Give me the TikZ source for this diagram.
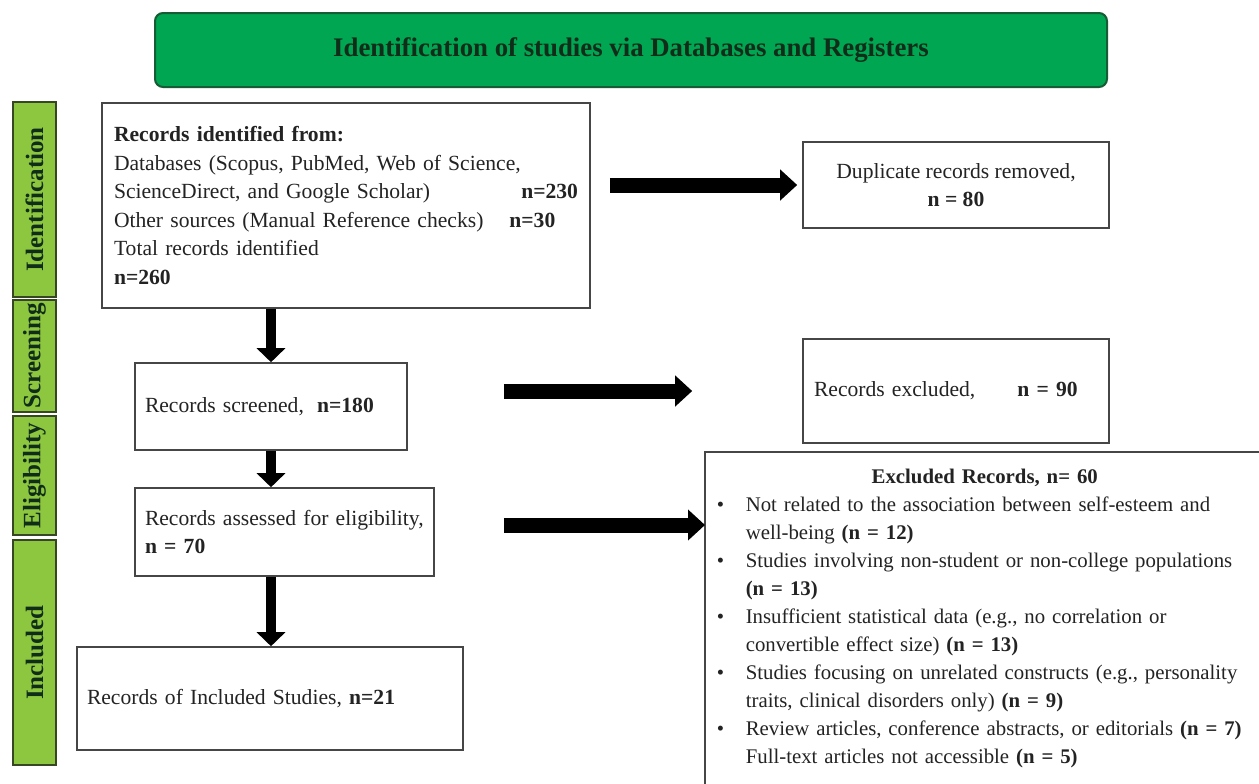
\documentclass[tikz,border=0pt]{standalone}
\usepackage{fontspec}
\setmainfont{Liberation Serif}
\usepackage{tikz}
\usetikzlibrary{arrows.meta, positioning}
\definecolor{hdrgreen}{RGB}{0,166,81}
\definecolor{hdrdark}{RGB}{22,92,52}
\definecolor{hdrtext}{RGB}{15,45,25}
\definecolor{phasegreen}{RGB}{141,198,63}
\definecolor{phasedark}{RGB}{55,70,35}
\definecolor{boxgray}{RGB}{70,70,70}
\definecolor{txtdark}{RGB}{35,35,35}
\newcommand{\exbullet}{\makebox[14.5pt][l]{\textbullet}}
\newcommand{\exindent}{\hspace*{14.5pt}}
\tikzset{
  header/.style={rectangle, draw=hdrdark, fill=hdrgreen, rounded corners=4pt,
    line width=1pt, minimum width=476pt, minimum height=37pt,
    font=\fontsize{13.4}{16}\selectfont\bfseries, text=hdrtext},
  phase/.style={rectangle, draw=phasedark, fill=phasegreen, line width=0.9pt,
    rotate=90, minimum height=21.5pt, inner sep=0pt,
    font=\fontsize{12.5}{14}\selectfont\bfseries, text=hdrtext},
  recbox/.style={rectangle, draw=boxgray, line width=0.8pt, text=txtdark,
    font=\fontsize{10.8}{14.25}\selectfont, inner xsep=5pt},
  bigarrow/.style={-{Triangle[length=8.5pt,width=15pt]}, line width=7.5pt, black},
  downarrow/.style={-{Triangle[length=7pt,width=14pt]}, line width=5pt, black}
}

\begin{document}
\begin{tikzpicture}[x=0.5pt, y=-0.5pt]
  \path[use as bounding box, clip] (0,0) rectangle (1259,783);
  \fill[white] (0,0) rectangle (1259,783);

  % header bar
  \node[header] (hdr) at (631,50) {Identification of studies via Databases and Registers};

  % phase labels on the left
  \node[phase, minimum width=97.5pt] (phid) at (34.5,199.5) {Identification};
  \node[phase, minimum width=56pt] (phscr) at (34.5,356) {Screening};
  \node[phase, minimum width=59.5pt] (phelig) at (34.5,475.5) {Eligibility};
  \node[phase, minimum width=112.5pt] (phinc) at (34.5,652.5) {Included};

  % main column
  \node[recbox, text width=232pt, inner xsep=6pt, minimum height=102.5pt, align=left] (recid) at (346,205.5)
    {\textbf{Records identified from:}\\
     Databases (Scopus, PubMed, Web of Science,\\
     ScienceDirect, and Google Scholar)\hfill\textbf{n=230}\\
     Other sources (Manual Reference checks)\hspace{13pt}\textbf{n=30}\\
     Total records identified\\
     \textbf{n=260}};
  \node[recbox, text width=126pt, minimum height=43.5pt, align=left] (scr) at (271,406.5)
    {Records screened,\hspace{3pt} \textbf{n=180}};
  \node[recbox, text width=139.5pt, minimum height=44pt, align=left] (elg) at (284.5,532)
    {Records assessed for eligibility,\\ \textbf{n = 70}};
  \node[recbox, text width=183pt, minimum height=51.5pt, align=left] (incl) at (270,698.5)
    {Records of Included Studies, \textbf{n=21}};

  % right column
  \node[recbox, minimum width=153pt, minimum height=43pt, align=center] (dup) at (956,185)
    {Duplicate records removed,\\ \textbf{n = 80}};
  \node[recbox, text width=142pt, inner xsep=5.5pt, minimum height=52pt, align=left] (exc) at (956,391)
    {Records excluded,\hspace{21pt}\textbf{n = 90}};
  \node[recbox, draw=none, anchor=north west, text width=268pt, inner xsep=5.5pt, inner ysep=8pt,
    font=\fontsize{10.4}{14}\selectfont, align=left] (exlist) at (705,452)
    {\hfill\textbf{Excluded Records, n= 60}\hfill\null\\
     \exbullet Not related to the association between self-esteem and\\
     \exindent well-being \textbf{(n = 12)}\\
     \exbullet Studies involving non-student or non-college populations\\
     \exindent \textbf{(n = 13)}\\
     \exbullet Insufficient statistical data (e.g., no correlation or\\
     \exindent convertible effect size) \textbf{(n = 13)}\\
     \exbullet Studies focusing on unrelated constructs (e.g., personality\\
     \exindent traits, clinical disorders only) \textbf{(n = 9)}\\
     \exbullet Review articles, conference abstracts, or editorials \textbf{(n = 7)}\\
     \exindent Full-text articles not accessible \textbf{(n = 5)}};
  \draw[boxgray, line width=0.8pt] ([yshift=-20pt]exlist.south west) -- (exlist.north west)
    -- (exlist.north east) -- ([yshift=-20pt]exlist.south east);

  % arrows
  \draw[bigarrow, shorten <=9.5pt, shorten >=2.5pt] (recid.east |- dup.west) -- (dup.west);
  \draw[bigarrow, shorten <=48pt, shorten >=55pt] (scr.east |- exc.west) -- (exc.west);
  \draw[bigarrow, shorten <=34.5pt] ([yshift=3.5pt]elg.east) -- ([yshift=3.5pt]elg.east -| exlist.west);
  \draw[downarrow] (scr.north |- recid.south) -- (scr.north);
  \draw[downarrow] (scr.south) -- (scr.south |- elg.north);
  \draw[downarrow] (scr.south |- elg.south) -- (scr.south |- incl.north);
\end{tikzpicture}
\end{document}
